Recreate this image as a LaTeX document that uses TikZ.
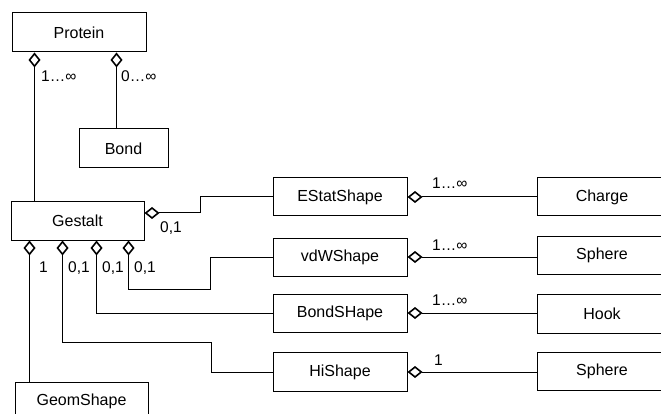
\documentclass[tikz,border=0pt]{standalone}
\usepackage{fontspec}
\setmainfont{Liberation Sans}
\usetikzlibrary{arrows.meta}
\begin{document}
\begin{tikzpicture}[x=1pt,y=-1pt,
  box/.style={draw, line width=1pt, inner sep=0pt, font=\fontsize{16}{19}\selectfont},
  lab/.style={inner sep=0pt, anchor=base west, font=\fontsize{15.5}{18}\selectfont},
  agg/.style={line width=1pt, {Diamond[open,length=15pt,width=12pt,line width=1.6pt]}-}]
\useasboundingbox (0,0) rectangle (661,414);
\clip (0,0) rectangle (661,414);
% left column
\node[box, minimum width=134pt, minimum height=39pt] (protein) at (79,32.5) {Protein};
\node[box, minimum width=89pt, minimum height=39pt] (bond) at (123.5,148.5) {Bond};
\node[box, minimum width=133pt, minimum height=38pt] (gestalt) at (77.5,221) {Gestalt};
\node[box, minimum width=133pt, minimum height=39pt] (geom) at (81.5,401.5) {GeomShape};
% middle column
\node[box, minimum width=134pt, minimum height=38pt] (estat) at (340,197) {EStatShape};
\node[box, minimum width=134pt, minimum height=38pt] (vdw) at (340,257) {vdWShape};
\node[box, minimum width=134pt, minimum height=38pt] (bondshape) at (340,313) {BondSHape};
\node[box, minimum width=134pt, minimum height=39pt] (hishape) at (340,372) {HiShape};
% right column
\node[box, minimum width=130pt, minimum height=38pt] (charge) at (602,197) {Charge};
\node[box, minimum width=130pt, minimum height=38pt] (sphereA) at (602,255) {Sphere};
\node[box, minimum width=130pt, minimum height=39pt] (hook) at (602,313.5) {Hook};
\node[box, minimum width=130pt, minimum height=38pt] (sphereB) at (602,371) {Sphere};
% bend points
\coordinate (b0) at (200,197);
\coordinate (b1) at (211,342);
\coordinate (b3) at (210,289);
% Protein connectors
\draw[agg] ([xshift=23pt]protein.south west) coordinate (pa) -- (pa |- gestalt.north);
\draw[agg] ([xshift=105pt]protein.south west) coordinate (pb) -- (pb |- bond.north);
% Gestalt connectors
\draw[agg] ([yshift=8pt]gestalt.east) -| (b0) -- (estat.west);
\draw[agg] ([xshift=19pt]gestalt.south west) coordinate (g1) -- (g1 |- geom.north);
\draw[agg] ([xshift=52pt]gestalt.south west) coordinate (g2) |- (b1) |- (hishape.west);
\draw[agg] ([xshift=86pt]gestalt.south west) coordinate (g3) |- (bondshape.west);
\draw[agg] ([xshift=118pt]gestalt.south west) coordinate (g4) |- (b3) |- (vdw.west);
% right connectors
\draw[agg] (estat.east) -- (estat.east -| charge.west);
\draw[agg] (vdw.east) -- (vdw.east -| sphereA.west);
\draw[agg] (bondshape.east) -- (bondshape.east -| hook.west);
\draw[agg] (hishape.east) -- (hishape.east -| sphereB.west);
% labels
\node[lab] (l1) at (41,81.5) {1…∞};
\node[lab] (l2) at (121,81.5) {0…∞};
\node[lab] (l3) at (160,232.5) {0,1};
\node[lab] (l4) at (39,272.5) {1};
\node[lab] (l5) at (68,272.5) {0,1};
\node[lab] (l6) at (102,272.5) {0,1};
\node[lab] (l7) at (134,272.5) {0,1};
\node[lab] (l8) at (432,188.5) {1…∞};
\node[lab] (l9) at (432,250.5) {1…∞};
\node[lab] (l10) at (432,305.5) {1…∞};
\node[lab] (l11) at (434,365.5) {1};
\end{tikzpicture}
\end{document}
